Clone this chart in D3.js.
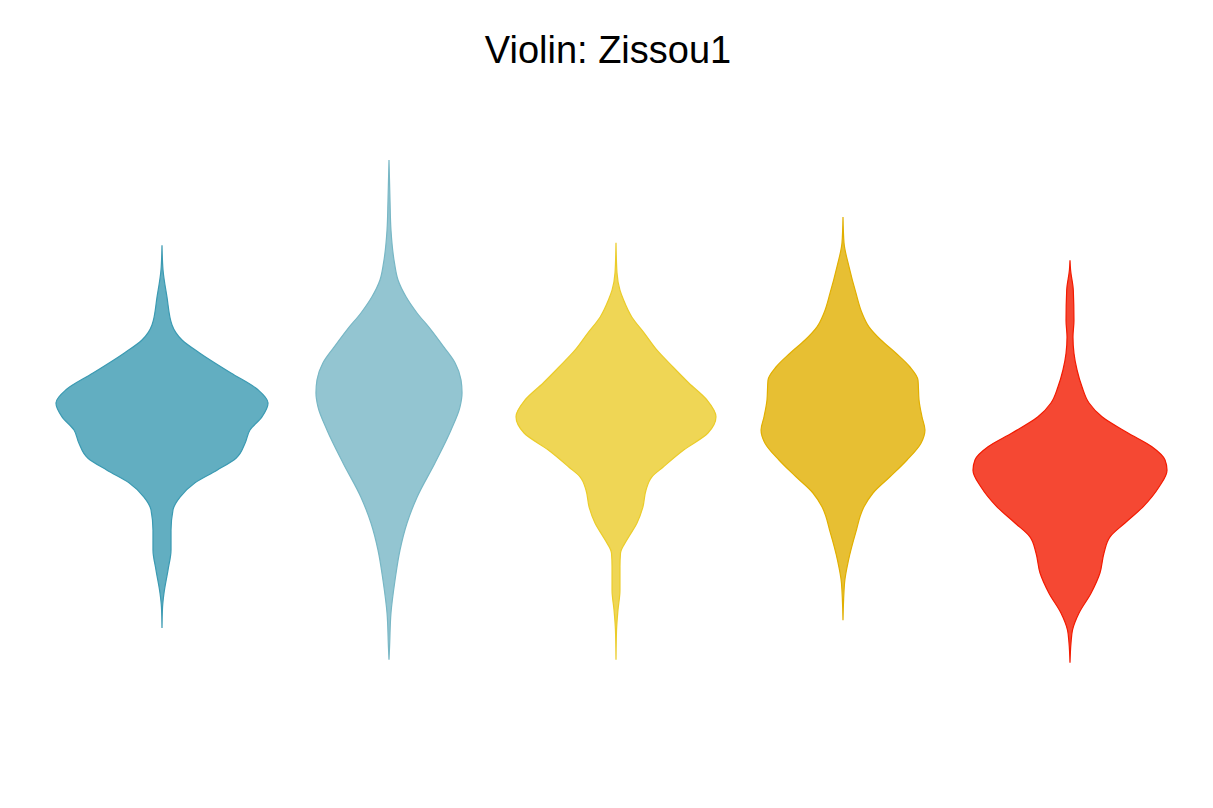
<!DOCTYPE html>
<html>
<head>
<meta charset="utf-8">
<script src="https://cdn.jsdelivr.net/npm/d3@7"></script>
<style>
  body { margin: 0; background: #fff; }
  svg { display: block; }
</style>
</head>
<body>
<div id="chart"></div>
<script>
const width = 1213;
const height = 808;

// groups and the Zissou1 palette
const categories = ["A", "B", "C", "D", "E"];
const colors = ["#3B9AB2", "#78B7C5", "#EBCC2A", "#E1AF00", "#F21A00"];

// density profiles: value levels and density at each level
const levelsA  = [7.58, 7.17, 6.72, 6.25, 6.00, 5.78, 5.45, 5.17, 4.95, 4.72, 4.50, 4.28, 4.03, 3.83, 3.62, 3.38, 3.17, 2.83, 2.50, 2.17, 1.78, 1.55, 1.20];
const densityA = [0, .009, .045, .091, .182, .345, .627, .873, .964, .909, .800, .755, .673, .500, .300, .164, .100, .082, .082, .055, .018, .005, 0];

const levelsB  = [9.00, 8.33, 7.83, 7.28, 7.00, 6.72, 6.45, 6.17, 5.88, 5.62, 5.33, 5.12, 4.88, 4.50, 3.95, 3.38, 2.95, 2.50, 2.00, 1.45, 0.88, 0.67];
const densityB = [0, .009, .018, .050, .082, .155, .255, .382, .500, .600, .655, .664, .645, .564, .418, .255, .164, .100, .055, .018, .005, 0];

const levelsC  = [7.62, 7.12, 6.83, 6.67, 6.38, 6.12, 5.83, 5.55, 5.28, 5.00, 4.72, 4.45, 4.17, 3.88, 3.72, 3.50, 3.22, 2.95, 2.67, 2.45, 2.22, 1.83, 1.50, 1.17, 0.67];
const densityC = [0, .009, .036, .068, .145, .255, .373, .518, .664, .827, .909, .836, .618, .427, .327, .273, .245, .191, .100, .041, .036, .036, .018, .005, 0];

const levelsD  = [8.05, 7.62, 7.22, 6.78, 6.45, 6.22, 6.00, 5.78, 5.55, 5.33, 5.00, 4.72, 4.50, 4.28, 4.00, 3.72, 3.45, 3.22, 2.78, 2.33, 1.95, 1.33];
const densityD = [0, .009, .055, .118, .173, .236, .345, .482, .609, .682, .691, .718, .745, .709, .582, .427, .273, .191, .114, .050, .014, 0];

const levelsE  = [7.33, 7.17, 6.83, 6.33, 6.05, 5.78, 5.50, 5.22, 4.95, 4.72, 4.45, 4.22, 4.00, 3.83, 3.55, 3.22, 2.95, 2.72, 2.45, 2.12, 1.78, 1.45, 1.17, 0.95, 0.62];
const densityE = [0, .005, .030, .036, .027, .036, .064, .109, .173, .291, .527, .745, .864, .882, .809, .664, .500, .364, .309, .273, .191, .082, .023, .009, 0];

const levels = [levelsA, levelsB, levelsC, levelsD, levelsE];
const densities = [densityA, densityB, densityC, densityD, densityE];

const svg = d3.select("#chart")
  .append("svg")
  .attr("width", width)
  .attr("height", height);

// scales
const x = d3.scalePoint()
  .domain(categories)
  .range([48.5, 1183.5])
  .padding(0.5);

const y = d3.scaleLinear()
  .domain([0, 10])
  .range([700, 100]);

const w = d3.scaleLinear()
  .domain([0, 1])
  .range([0, 110]);

// title
svg.append("text")
  .attr("x", 608)
  .attr("y", 63)
  .attr("text-anchor", "middle")
  .style("font-family", "'Liberation Sans', Arial, sans-serif")
  .style("font-size", "38px")
  .style("fill", "#000")
  .text("Violin: Zissou1");

// violins
categories.forEach((cat, i) => {
  const cx = x(cat);
  const pts = levels[i].map((v, j) => ({v: v, d: densities[i][j]}));

  const area = d3.area()
    .y(d => y(d.v))
    .x0(d => cx - w(d.d))
    .x1(d => cx + w(d.d))
    .curve(d3.curveMonotoneY);

  svg.append("path")
    .datum(pts.slice().reverse())
    .attr("d", area)
    .attr("fill", colors[i])
    .attr("fill-opacity", 0.8)
    .attr("stroke", colors[i])
    .attr("stroke-width", 1.2);
});
</script>
</body>
</html>
